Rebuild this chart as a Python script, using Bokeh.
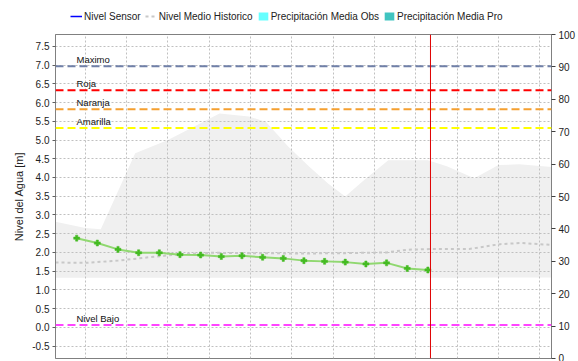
from bokeh.plotting import figure
from bokeh.layouts import column
from bokeh.models import (Range1d, LinearAxis, SingleIntervalTicker, FixedTicker,
                          NumeralTickFormatter, Legend, LegendItem, Span, ColumnDataSource)
from bokeh.core.properties import value
from bokeh.embed import file_html
from bokeh.resources import INLINE

FONT = "Liberation Sans"

# ---- data (hours from the first grid day) ----
sensor_horas = [-5, 7, 19, 31, 43, 55, 67, 79, 91, 103, 115, 127, 139, 151, 163, 175, 187, 199]
sensor_nivel = [2.38, 2.25, 2.08, 1.99, 1.99, 1.94, 1.93, 1.89, 1.91, 1.87,
                1.84, 1.78, 1.76, 1.74, 1.69, 1.72, 1.57, 1.53]

banda_horas = [-17.3, 0, 9, 29, 48, 78, 95, 105, 118, 130, 141, 151, 162, 176, 199, 210, 226, 240, 252, 271]
banda_max = [2.82, 2.65, 2.62, 4.65, 5.0, 5.71, 5.63, 5.48, 4.82, 4.29, 3.84, 3.49, 3.93, 4.46, 4.46,
             4.30, 3.98, 4.33, 4.35, 4.28]
banda_min = [1.32, 1.32, 1.32, 1.32, 1.32, 1.32, 1.32, 1.32, 1.32, 1.32, 1.32, 1.32, 1.32, 1.32, 1.32,
             1.32, 1.32, 1.33, 1.33, 1.33]

hist_horas = [-17.3, 0, 19, 37, 55, 73, 91, 127, 151, 175, 187, 201, 223, 241, 253, 271]
hist_nivel = [1.73, 1.72, 1.78, 1.87, 1.95, 1.99, 1.98, 1.97, 1.98, 2.00, 2.07, 2.09, 2.09, 2.22, 2.25, 2.20]

umbral_nombres = ["Maximo", "Roja", "Naranja", "Amarilla", "Nivel Bajo"]
umbral_valores = [6.97, 6.33, 5.82, 5.32, 0.06]
umbral_colores = ["#7080a8", "#ff0000", "#f5a030", "#ffff00", "#ff44ff"]

leyenda_nombres = ["Nivel Sensor", "Nivel Medio Historico", "Precipitación Media Obs", "Precipitación Media Pro"]

ahora = 200.5

dias_grid = list(range(0, 272, 24))

x_inicio, x_fin = -17.3, 270.8
y_min, y_max = -0.833, 7.817
precip_min, precip_max = 0, 100

# ---------------- legend strip ----------------
pl = figure(width=578, height=28, output_backend="svg", toolbar_location=None,
            x_range=Range1d(0, 1), y_range=Range1d(0, 1),
            x_axis_location=None, y_axis_location=None,
            min_border_left=55, min_border_right=23, min_border_top=0, min_border_bottom=0)
pl.grid.visible = False
pl.outline_line_color = None
pl.background_fill_color = "white"
pl.border_fill_color = "white"

# one-row sources holding no drawable value: only the legend glyphs are shown
sin_datos = ColumnDataSource(data=dict(x=[float("nan")], y=[float("nan")]))
l_sensor = pl.line("x", "y", source=sin_datos, line_color="#0000ff", line_width=1.5)
l_hist = pl.line("x", "y", source=sin_datos, line_color="#c8c8c8", line_width=2, line_dash="3 3")
l_obs = pl.vbar(x="x", top="y", width=1, source=sin_datos, fill_color="#66ffff", line_color=None)
l_pro = pl.vbar(x="x", top="y", width=1, source=sin_datos, fill_color="#40c4c0", line_color=None)

legend = Legend(items=[LegendItem(label=n, renderers=[r])
                       for n, r in zip(leyenda_nombres, [l_sensor, l_hist, l_obs, l_pro])],
                orientation="horizontal", location=(15, 6),
                glyph_width=12, glyph_height=10, label_standoff=2, spacing=4,
                padding=0, margin=0, border_line_color=None, background_fill_alpha=0,
                label_text_font=FONT, label_text_font_size="10px", label_text_color="#222222",
                label_height=12)
pl.add_layout(legend, "center")

# ---------------- main chart ----------------
p = figure(width=578, height=333, output_backend="svg", toolbar_location=None,
           x_range=Range1d(x_inicio, x_fin), y_range=Range1d(y_min, y_max),
           min_border_left=55, min_border_right=23, min_border_top=6, min_border_bottom=3)
p.outline_line_color = "#808080"
p.background_fill_color = "white"
p.border_fill_color = "white"

p.xaxis.visible = False

p.xgrid.ticker = FixedTicker(ticks=dias_grid)
p.xgrid.grid_line_color = "#c0c0c0"
p.ygrid.grid_line_color = "#c0c0c0"
p.xgrid.grid_line_dash = "2 2"
p.ygrid.grid_line_dash = "2 2"

p.yaxis.ticker = SingleIntervalTicker(interval=0.5, num_minor_ticks=0)
p.yaxis.formatter = NumeralTickFormatter(format="0.0")
p.yaxis.axis_label = "Nivel del Agua [m]"
p.yaxis.axis_label_text_font = FONT
p.yaxis.axis_label_text_font_size = "11px"
p.yaxis.axis_label_text_font_style = "normal"
p.yaxis.axis_label_text_color = "#222222"
p.yaxis.axis_label_standoff = 4
p.yaxis.major_label_text_font = FONT
p.yaxis.major_label_text_font_size = "10px"
p.yaxis.major_label_text_color = "#222222"
p.yaxis.major_label_standoff = 3
p.yaxis.major_tick_out = 3
p.yaxis.major_tick_in = 0
p.yaxis.axis_line_color = "#808080"
p.yaxis.major_tick_line_color = "#606060"

p.extra_y_ranges = {"precip": Range1d(precip_min, precip_max)}
ax_r = LinearAxis(y_range_name="precip", ticker=SingleIntervalTicker(interval=10, num_minor_ticks=0))
ax_r.major_label_text_font = FONT
ax_r.major_label_text_font_size = "10px"
ax_r.major_label_text_color = "#222222"
ax_r.major_label_standoff = 3
ax_r.major_tick_out = 4
ax_r.major_tick_in = 0
ax_r.axis_line_color = "#808080"
ax_r.major_tick_line_color = "#404040"
p.add_layout(ax_r, "right")

p.varea(x=banda_horas, y1=banda_min, y2=banda_max, fill_color="#f0f0f0", level="image")

p.line(hist_horas, hist_nivel, line_color="#c8c8c8", line_width=2, line_dash="3 3")

for v, c in zip(umbral_valores, umbral_colores):
    p.add_layout(Span(location=v, dimension="width", line_color=c, line_width=2, line_dash="8 4"))
p.text(x=[x_inicio] * len(umbral_nombres), y=umbral_valores, text=umbral_nombres,
       x_offset=21, y_offset=-1, text_font=value(FONT), text_font_size="9.5px",
       text_color="#111111", text_baseline="bottom", text_align="left")

p.line(sensor_horas, sensor_nivel, line_color="#90d870", line_width=2)
p.scatter(sensor_horas, sensor_nivel, marker="plus", size=6, fill_color="#44bb22", line_color="#44bb22",
          line_width=0.5)

p.add_layout(Span(location=ahora, dimension="height", line_color="#e00000", line_width=1))

open("out.html", "w").write(file_html(column(pl, p, spacing=0), INLINE))
